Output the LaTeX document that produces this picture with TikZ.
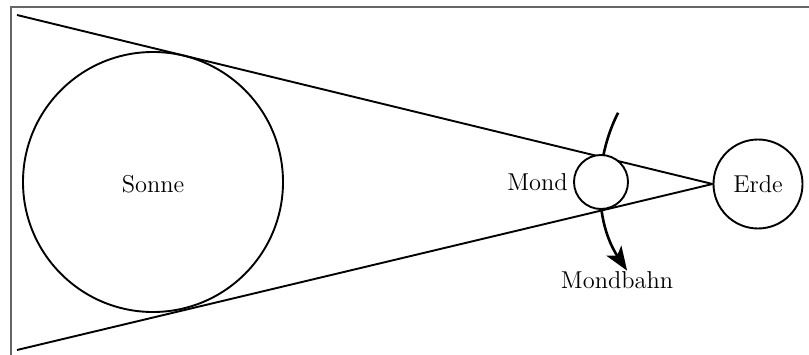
\documentclass[tikz,border=0pt]{standalone}
\usetikzlibrary{arrows.meta}
\begin{document}
\begin{tikzpicture}[x=0.5pt,y=0.5pt,
  body/.style={circle,draw,line width=0.95pt,inner sep=0pt,font=\fontsize{12.2}{14}\selectfont},
  lbl/.style={inner sep=0pt,font=\fontsize{12.2}{14}\selectfont},
  ray/.style={line width=0.95pt},
  orbit/.style={line width=1.3pt,-{Stealth[length=12pt,width=9pt,inset=3pt]}},
  framel/.style={line width=1pt,draw=black!60}]
\useasboundingbox (0,0) rectangle (809,354);
\draw[framel] (11,-2) -- (11,347) -- (811,347);
\node[body,minimum size=130pt] (sun) at (153,172) {};
\node[lbl] (sunlbl) at (153,170) {Sonne};
\node[body,minimum size=44.5pt] (earth) at (758,170) {Erde};
\coordinate (tl) at (17,339);
\coordinate (bl) at (17,4);
\draw[ray] (tl) -- (earth.west);
\draw[ray] (bl) -- (earth.west);
\draw[orbit] ([shift={(153:78.5pt)}]earth.center) arc[start angle=153,end angle=213.5,radius=78.5pt];
\node[body,minimum size=27pt,fill=white] (moon) at (601,172) {};
\node[lbl,anchor=east] (moonlbl) at ([xshift=-2.5pt]moon.west) {Mond};
\node[lbl] (orbitlbl) at (617,74) {Mondbahn};
\end{tikzpicture}
\end{document}
